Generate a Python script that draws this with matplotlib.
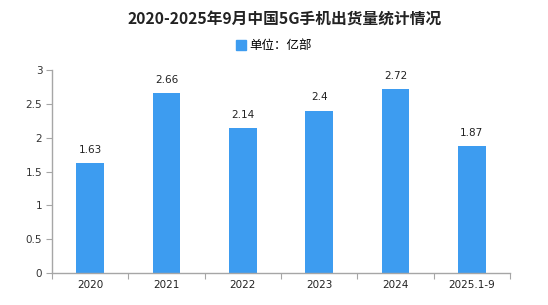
import numpy as np
import matplotlib
matplotlib.use('Agg')
from matplotlib import pyplot as plt
from matplotlib.patches import Patch

plt.rcParams['font.family'] = ['Noto Sans CJK SC', 'DejaVu Sans']

categories = ['2020', '2021', '2022', '2023', '2024', '2025.1-9']
values = [1.63, 2.66, 2.14, 2.4, 2.72, 1.87]
value_labels = ['1.63', '2.66', '2.14', '2.4', '2.72', '1.87']
y_ticks = [0, 0.5, 1, 1.5, 2, 2.5, 3]
y_tick_labels = ['0', '0.5', '1', '1.5', '2', '2.5', '3']

bar_color = '#3d9cf0'
axis_color = '#a6a6a6'
num_font = ['DejaVu Sans']

fig = plt.figure(figsize=(5.48, 3.05), dpi=100)
ax = fig.add_axes([0.0949, 0.1049, 0.8358, 0.6656])

x = np.arange(len(categories))
ax.bar(x, values, width=0.36, color=bar_color, zorder=2)
for xi, v, lab in zip(x, values, value_labels):
    ax.text(xi, v + 0.12, lab, ha='center', va='bottom', fontsize=7.5,
            color='#222222', family=num_font)

ax.set_xlim(-0.5, len(categories) - 0.5)
ax.set_ylim(0, 3)
ax.set_yticks(y_ticks)
ax.set_yticklabels(y_tick_labels, fontsize=7.5, color='#333333', family=num_font)

# category boundary ticks, labels centred
ax.set_xticks(np.arange(len(categories) + 1) - 0.5)
ax.set_xticklabels([])
ax.set_xticks(x, minor=True)
ax.set_xticklabels(categories, minor=True, fontsize=7.5, color='#222222', family=num_font)
ax.tick_params(axis='x', which='minor', length=0, pad=5)
ax.tick_params(axis='x', which='major', length=4, color=axis_color)
ax.tick_params(axis='y', length=4, color=axis_color, pad=3)

for s in ['top', 'right']:
    ax.spines[s].set_visible(False)
for s in ['left', 'bottom']:
    ax.spines[s].set_color(axis_color)
    ax.spines[s].set_linewidth(1.0)

fig.text(0.52, 0.94, '2020-2025年9月中国5G手机出货量统计情况', ha='center', va='center',
         fontsize=11.3, fontweight='bold', color='#222222')
fig.legend(handles=[Patch(color=bar_color, label='单位：亿部')], loc='center',
           bbox_to_anchor=(0.5, 0.85), frameon=False, fontsize=9,
           handlelength=0.8, handleheight=0.8, handletextpad=0.3)

fig.savefig('out.png', dpi=100)
